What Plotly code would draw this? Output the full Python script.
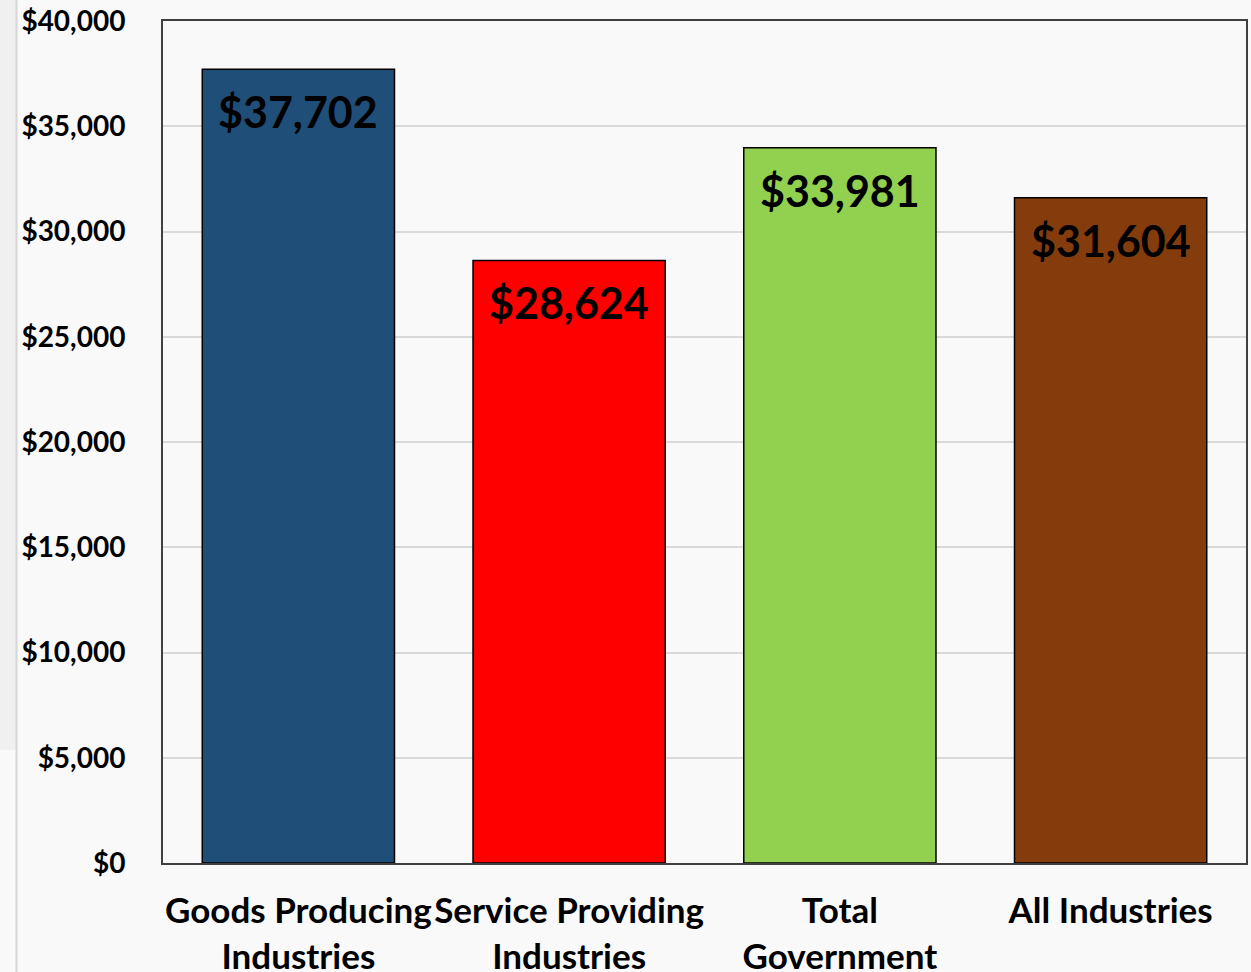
import plotly.graph_objects as go

categories = ["Goods Producing<br>Industries", "Service Providing<br>Industries",
              "Total<br>Government", "All Industries"]
values = [37702, 28624, 33981, 31604]
labels = ["$37,702", "$28,624", "$33,981", "$31,604"]
colors = ["#1f4e79", "#ff0000", "#92d050", "#843c0c"]
tick_vals = [0, 5000, 10000, 15000, 20000, 25000, 30000, 35000, 40000]
tick_text = ["$0", "$5,000", "$10,000", "$15,000", "$20,000", "$25,000",
             "$30,000", "$35,000", "$40,000"]

W, H = 1251, 972
L, R, T, B = 163, 5, 21, 109
pw, ph = W - L - R, H - T - B

def px_x(x):
    return (x - L) / pw

def px_y(y):
    return (H - B - y) / ph

fig = go.Figure()
fig.add_trace(go.Bar(
    x=categories, y=values,
    marker=dict(color=colors, line=dict(color="#000000", width=1.5)),
    hoverinfo="skip",
))

# value labels inside the top of each bar
for c, v, t in zip(categories, values, labels):
    fig.add_annotation(x=c, y=v, text="<b>" + t + "</b>", showarrow=False,
                       yanchor="top", yshift=-15,
                       font=dict(family="Lato", size=43, color="#000000"))

# faint panel edge at the far left
fig.add_shape(type="rect", xref="paper", yref="paper",
              x0=px_x(-5), x1=px_x(16), y0=px_y(750), y1=px_y(-5),
              fillcolor="#f0f0f0", line=dict(width=0), layer="below")
fig.add_shape(type="line", xref="paper", yref="paper",
              x0=px_x(16.5), x1=px_x(16.5), y0=px_y(980), y1=px_y(-5),
              line=dict(color="#d6d6d6", width=2))

fig.update_layout(
    width=W, height=H,
    margin=dict(l=L, r=R, t=T, b=B, autoexpand=False),
    paper_bgcolor="#f9f9f9", plot_bgcolor="#f9f9f9",
    bargap=0.29, showlegend=False,
    font=dict(family="Lato", color="#000000"),
)
fig.update_yaxes(range=[0, 40000], tickvals=tick_vals, ticktext=tick_text,
                 tickfont=dict(family="Lato", size=28, color="#000000", weight="bold"),
                 showgrid=True, gridcolor="#d9d9d9", gridwidth=2,
                 showline=True, linecolor="#404040", linewidth=2, mirror=True,
                 zeroline=False, ticks="", ticklabelstandoff=30, automargin=False)
fig.update_xaxes(tickfont=dict(family="Lato", size=35, color="#000000", weight="bold"),
                 showline=True, linecolor="#404040", linewidth=2, mirror=True,
                 ticks="", ticklabelstandoff=16, automargin=False)

# drop the default page margin so the figure sits at the window's corner
fig.write_html("out.html", config={"displayModeBar": False},
               post_script="document.body.style.margin='0px';"
                           "document.body.style.background='#f9f9f9';")
